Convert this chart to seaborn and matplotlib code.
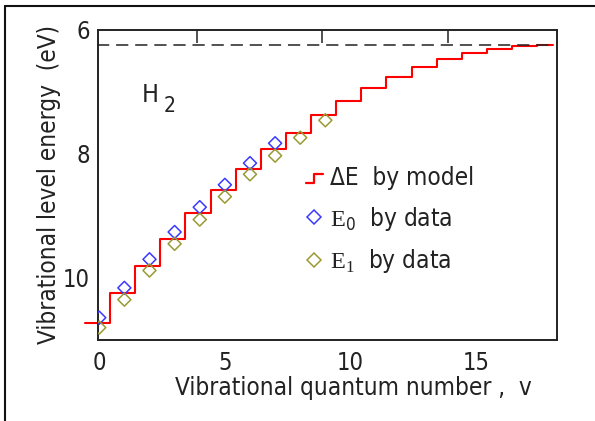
import numpy as np
import pandas as pd
import seaborn as sns
import matplotlib.pyplot as plt
from matplotlib.lines import Line2D
from matplotlib.legend_handler import HandlerBase

# model step levels, v = 0..18 (last level cut at v_end)
v_model = np.arange(19)
dE_model = [10.73, 10.24, 9.80, 9.37, 8.96, 8.59, 8.25, 7.93, 7.66, 7.38,
            7.15, 6.94, 6.76, 6.60, 6.48, 6.37, 6.31, 6.27, 6.25]
v_end = 18.06

# data points
v_e0 = np.arange(8)
e0 = [10.64, 10.16, 9.70, 9.26, 8.86, 8.50, 8.15, 7.83]
v_e1 = np.arange(10)
e1 = [10.80, 10.35, 9.88, 9.45, 9.06, 8.69, 8.33, 8.03, 7.74, 7.46]

limit = 6.24
x_ticks = [0, 5, 10, 15]
y_ticks = [6, 8, 10]
top_ticks = [3.88, 8.86, 13.88]

sns.set_style("white")
plt.rcParams['font.family'] = ['DejaVu Sans']
plt.rcParams['font.stretch'] = 'condensed'
plt.rcParams['mathtext.fontset'] = 'custom'
plt.rcParams['mathtext.rm'] = 'Liberation Serif'
plt.rcParams['mathtext.sf'] = 'DejaVu Sans'

RED = '#ff0000'
BLUE = '#3a3aff'
OLIVE = '#9a9a33'
INK = '#222222'


class StepHandler(HandlerBase):
    def create_artists(self, legend, orig_handle, xdescent, ydescent,
                       width, height, fontsize, trans):
        xs = [0, width * 0.45, width * 0.45, width]
        ys = [height * 0.15, height * 0.15, height * 0.65, height * 0.65]
        line = Line2D(xs, ys, color=RED, lw=1.6, transform=trans)
        return [line]


fig = plt.figure(figsize=(5.95, 4.21), dpi=100)
ax = fig.add_axes([0.1647, 0.1924, 0.7714, 0.7371])

# step line: edges at half steps
step_x = np.append(v_model - 0.57, v_end)
step_y = list(dE_model) + [dE_model[-1]]
df_model = pd.DataFrame({"v": step_x, "E": step_y})
sns.lineplot(data=df_model, x="v", y="E", ax=ax, color=RED, lw=1.5,
             drawstyle='steps-post', clip_on=False, sort=False)

ax.hlines(limit, -0.1, v_end, colors=INK, lw=1.1,
          linestyles=(0, (8, 4.5)), clip_on=False)

sns.scatterplot(x=v_e0, y=e0, ax=ax, marker='D', s=44, color=BLUE,
                facecolor='none', edgecolor=BLUE, linewidth=1.1, zorder=3)
sns.scatterplot(x=v_e1, y=e1, ax=ax, marker='D', s=44, color=OLIVE,
                facecolor='none', edgecolor=OLIVE, linewidth=1.1, zorder=3)

ax.set_xlim(-0.05, 18.22)
ax.set_ylim(11, 6)
ax.set_xticks(x_ticks)
ax.set_yticks(y_ticks)
ax.tick_params(direction='in', length=9, width=1.1, labelsize=17,
               color=INK, labelcolor=INK)
ax.tick_params(axis='x', pad=8)
ax.tick_params(axis='y', pad=6)
for s in ax.spines.values():
    s.set_linewidth(1.4)
    s.set_color(INK)

top = ax.secondary_xaxis('top')
top.set_xticks(top_ticks)
top.set_xticklabels([])
top.tick_params(direction='in', length=9, width=1.1, color=INK)
top.spines['top'].set_visible(False)

ax.set_xlabel("Vibrational quantum number ,  v", fontsize=17.5,
              color=INK, labelpad=1, x=0.557)
ax.set_ylabel("Vibrational level energy  (eV)", fontsize=17.5,
              color=INK, labelpad=1)

ax.text(0.096, 0.768, 'H', transform=ax.transAxes,
        fontsize=18, color=INK, va='baseline')
ax.text(0.143, 0.735, '2', transform=ax.transAxes,
        fontsize=15, color=INK, va='baseline')

handles = [
    Line2D([], [], color=RED),
    Line2D([], [], ls='none', marker='D', ms=7, mfc='none', mec=BLUE, mew=1.1),
    Line2D([], [], ls='none', marker='D', ms=7, mfc='none', mec=OLIVE, mew=1.1),
]
labels = ["ΔE  by model", r"$\mathrm{E}_{\mathsf{0}}$  by data",
          r"$\mathrm{E}_{1}$  by data"]
ax.legend(handles, labels, handler_map={handles[0]: StepHandler()},
          loc='upper left', bbox_to_anchor=(0.453, 0.56), frameon=False,
          fontsize=17.5, borderpad=0, borderaxespad=0, handlelength=0.7,
          handletextpad=0.3, labelspacing=0.6, labelcolor=INK)

# outer frame, left and top edges only
fig.add_artist(Line2D([0.0085, 0.0085], [0, 0.9865], color='#111111', lw=1.5))
fig.add_artist(Line2D([0.0085, 1], [0.9865, 0.9865], color='#111111', lw=1.5))

fig.savefig("out.png", dpi=100)
